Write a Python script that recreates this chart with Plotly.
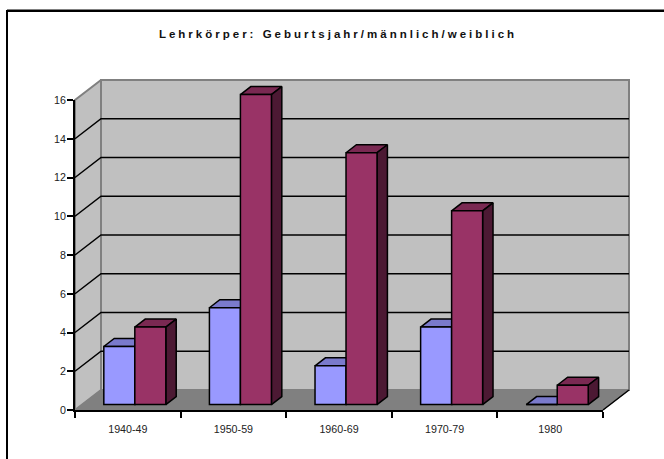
import plotly.graph_objects as go

title = "Lehrkörper: Geburtsjahr/männlich/weiblich"
categories = ["1940-49", "1950-59", "1960-69", "1970-79", "1980"]
maennlich = [3, 5, 2, 4, 0]
weiblich = [4, 16, 13, 10, 1]
y_ticks = [0, 2, 4, 6, 8, 10, 12, 14, 16]

W, H = 664, 459
AX_L, AX_R, AX_B, AX_T = 75, 603, 410, 100      # pixel box of the front axes
PX_X = (AX_R - AX_L) / len(categories)           # pixels per category
PX_Y = (AX_B - AX_T) / max(y_ticks)              # pixels per value unit
DEPTH_X, DEPTH_Y = 26 / PX_X, 20 / PX_Y          # oblique shift of the full depth, in data units
BAR_W = 31 / PX_X
D_FRONT, D_BACK = 0.27, 0.67                     # bar front and rear, as a fraction of the depth
N = len(categories)
Y_MAX = max(y_ticks)

C_WALL, C_FLOOR, C_EDGE = "#C0C0C0", "#808080", "#808080"
C_BLUE, C_BLUE_TOP, C_BLUE_SIDE = "#9999FF", "#7A7ACC", "#4C4C7F"
C_RED, C_RED_TOP, C_RED_SIDE = "#993366", "#7A2952", "#4C1933"


def pr(x, y, d):
    """Oblique projection of (category position, value, depth) into axis units."""
    return x + d * DEPTH_X, y + d * DEPTH_Y


def poly(points, fill, line=None, width=1.5, closed=True):
    pts = [pr(*p) for p in points]
    if closed:
        pts.append(pts[0])
    return go.Scatter(
        x=[p[0] for p in pts], y=[p[1] for p in pts], mode="lines",
        fill="toself" if fill else None, fillcolor=fill,
        line=dict(color=line or fill or "black", width=width),
        hoverinfo="skip", showlegend=False, xaxis="x", yaxis="y",
    )


x0, x1 = -0.5, N - 0.5
traces = [
    poly([(x0, 0, 0), (x0, Y_MAX, 0), (x0, Y_MAX, 1), (x0, 0, 1)], C_WALL, C_EDGE, 2),
    poly([(x0, 0, 1), (x0, Y_MAX, 1), (x1, Y_MAX, 1), (x1, 0, 1)], C_WALL, C_EDGE, 2),
    poly([(x0, 0, 0), (x1, 0, 0), (x1, 0, 1), (x0, 0, 1)], C_FLOOR, C_FLOOR, 1),
]
for v in y_ticks[1:-1]:
    traces.append(poly([(x0, v, 0), (x0, v, 1), (x1, v, 1)], None, "black", 1.5, closed=False))
traces.append(poly([(x1, 0, 0), (x1, 0, 1)], None, "black", 1.5, closed=False))

# Tops and sides of the bars, under the front faces
for i in range(N):
    for vals, off, top, side in ((maennlich, -BAR_W / 2, C_BLUE_TOP, C_BLUE_SIDE),
                                 (weiblich, BAR_W / 2, C_RED_TOP, C_RED_SIDE)):
        v = vals[i]
        l, r = i + off - BAR_W / 2, i + off + BAR_W / 2
        traces.append(poly([(l, v, D_FRONT), (r, v, D_FRONT), (r, v, D_BACK), (l, v, D_BACK)], top, "black"))
        if v > 0:
            traces.append(poly([(r, 0, D_FRONT), (r, v, D_FRONT), (r, v, D_BACK), (r, 0, D_BACK)], side, "black"))

# Front faces on an overlay, real bars with real values
fx, fb = pr(0, 0, D_FRONT)
positions = list(range(N))
for name, vals, off, color in (("männlich", maennlich, -BAR_W / 2, C_BLUE),
                               ("weiblich", weiblich, BAR_W / 2, C_RED)):
    traces.append(go.Bar(
        name=name, x=[p + fx + off for p in positions], y=vals, base=fb, width=BAR_W,
        marker=dict(color=color, line=dict(color="black", width=1.5)),
        xaxis="x2", yaxis="y2", showlegend=False,
        customdata=categories, hovertemplate="%{customdata}: %{y}<extra>" + name + "</extra>",
    ))

# Visible axes: dummy trace carrying the categories
traces.append(go.Scatter(x=categories, y=[None] * N, mode="lines", xaxis="x3", yaxis="y3",
                         showlegend=False, hoverinfo="skip"))

geo_x = [x0 - AX_L / PX_X, x0 + (W - AX_L) / PX_X]
geo_y = [-(H - AX_B) / PX_Y, AX_B / PX_Y]
hidden = dict(visible=False, fixedrange=True, showgrid=False, zeroline=False, automargin=False)
tick_font = dict(family="Liberation Sans, Arial, sans-serif", size=10.7, color="#222222")

fig = go.Figure(traces)
fig.update_layout(
    width=W, height=H, autosize=False, margin=dict(l=0, r=0, t=0, b=0),
    paper_bgcolor="white", plot_bgcolor="rgba(0,0,0,0)", showlegend=False, barmode="overlay",
    title=dict(text=title, x=338 / W, xanchor="center", y=1 - 34 / H, yanchor="middle",
               font=dict(family="Liberation Sans, Arial, sans-serif", size=11.5, color="#111111", weight="bold")),
    xaxis=dict(domain=[0, 1], range=geo_x, anchor="y", **hidden),
    yaxis=dict(domain=[0, 1], range=geo_y, anchor="x", **hidden),
    xaxis2=dict(range=geo_x, overlaying="x", anchor="y2", **hidden),
    yaxis2=dict(range=geo_y, overlaying="y", anchor="x2", **hidden),
    xaxis3=dict(domain=[AX_L / W, AX_R / W], type="category", categoryorder="array", categoryarray=categories,
                range=[x0, x1], anchor="y3", tickson="boundaries", ticks="outside", automargin=False,
                ticklen=6, tickwidth=2, tickcolor="black", showline=True, linecolor="black", linewidth=2,
                showgrid=False, zeroline=False, tickfont=tick_font, fixedrange=True, ticklabelstandoff=8),
    yaxis3=dict(domain=[(H - AX_B) / H, (H - AX_T) / H], range=[0, Y_MAX], tickvals=y_ticks, automargin=False,
                anchor="x3", ticks="outside", ticklen=6, tickwidth=2, tickcolor="black",
                showline=True, linecolor="black", linewidth=2, showgrid=False, zeroline=False,
                tickfont=tick_font, fixedrange=True, ticklabelstandoff=-1),
    shapes=[
        dict(type="line", xref="paper", yref="paper", x0=7 / W, x1=1, y0=1 - 9.5 / H, y1=1 - 9.5 / H,
             line=dict(color="#808080", width=1), layer="above"),
        dict(type="line", xref="paper", yref="paper", x0=7 / W, x1=1, y0=1 - 11 / H, y1=1 - 11 / H,
             line=dict(color="black", width=2), layer="above"),
        dict(type="line", xref="paper", yref="paper", x0=7 / W, x1=7 / W, y0=0, y1=1 - 10 / H,
             line=dict(color="black", width=2), layer="above"),
    ],
)

spacing_js = """
document.body.style.margin = '0';
document.querySelectorAll('.gtitle').forEach(function (t) { t.style.letterSpacing = '3px'; });
"""
fig.write_html("out.html", post_script=spacing_js, config=dict(displayModeBar=False))
